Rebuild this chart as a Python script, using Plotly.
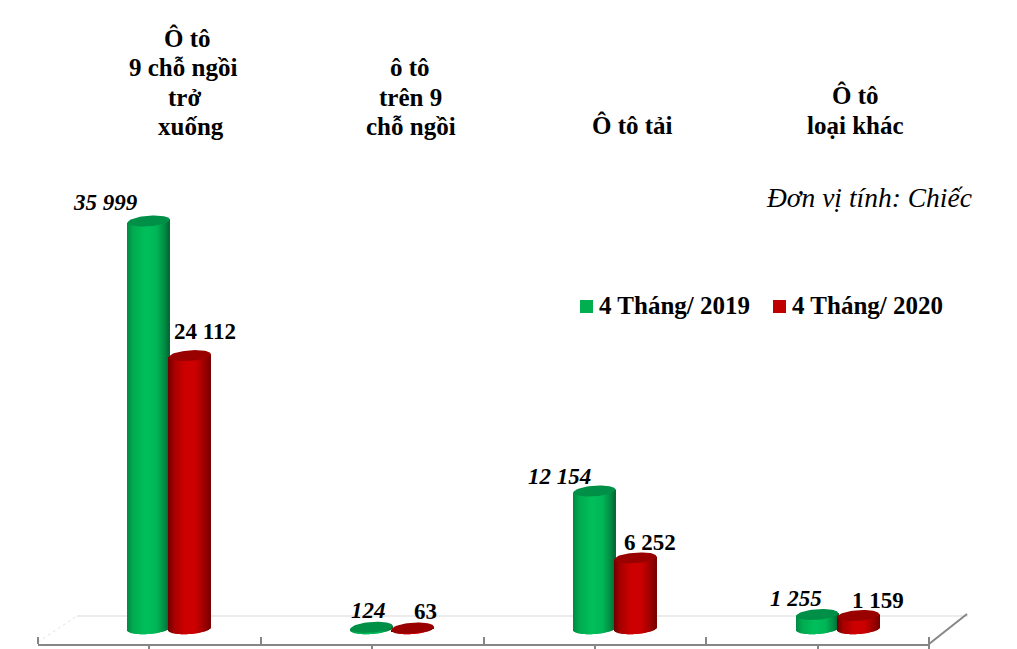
import numpy as np
import plotly.graph_objects as go

# ---------- data ----------
series_names = ["4 Tháng/ 2019", "4 Tháng/ 2020"]
values_2019 = [35999, 124, 12154, 1255]
values_2020 = [24112, 63, 6252, 1159]
category_lines = [
    ["Ô tô", "9 chỗ ngồi", "trở", "xuống"],
    ["ô tô", "trên 9", "chỗ ngồi"],
    ["Ô tô tải"],
    ["Ô tô", "loại khác"],
]
unit_note = "Đơn vị tính: Chiếc"

# ---------- layout constants (pixels) ----------
W, H = 1017, 649
L, R_EDGE, AXIS_Y = 38, 929, 644
BASE_PY = 628.7
PX_PER_UNIT = 407.7 / 35999
PX_PER_CAT = (R_EDGE - L) / 4
A, B, TILT = 21, 5.3, 0.07

OFFSET = [-0.5 / PX_PER_CAT, 40.5 / PX_PER_CAT]   # cylinder offset from the category centre
STOPS = [
    {"u": [-1, -.7, -.1, .4, .8, 1],
     "c": [(0, 138, 68), (0, 172, 80), (0, 192, 92), (0, 182, 86), (0, 138, 68), (0, 106, 53)]},
    {"u": [-1, -.7, -.2, .3, .7, 1],
     "c": [(110, 0, 0), (168, 0, 0), (204, 0, 0), (204, 0, 0), (160, 0, 0), (122, 0, 0)]},
]
TOP_COLORS = ["#008F47", "#990000"]
LEGEND_COLORS = ["#00B050", "#C00000"]
LABEL_STYLE = [True, False]                       # italic for 2019
# label shift from the top of each cylinder, px
LABEL_DX = [[-43, -3, -35, -21], [15, 13, 15, 20]]
LABEL_DY = [[-19, -17, -15, -16], [-24, -16, -15, -15]]


def xp(px):
    return (px - L) / (R_EDGE - L)


def yp(py):
    return (AXIS_Y - py) / AXIS_Y


def val(py):
    return (BASE_PY - py) / PX_PER_UNIT


def fmt(v):
    return f"{v:,}".replace(",", " ")


def font(size, bold=True, italic=False):
    return dict(family="Liberation Serif", size=size, color="black",
                weight="bold" if bold else "normal",
                style="italic" if italic else "normal")


fig = go.Figure()
annotations = []

for s, vals in enumerate([values_2019, values_2020]):
    for i, v in enumerate(vals):
        xc = i + 0.5 + OFFSET[s]
        # body: 1-px bars, each running from the base ellipse to the value level
        dpx = np.arange(-A, A) + 0.5
        u = dpx / A
        lower = val(BASE_PY + B * np.sqrt(1 - u ** 2) - TILT * dpx)
        upper = v + TILT * dpx / PX_PER_UNIT
        rgb = [np.interp(u, STOPS[s]["u"], [c[k] for c in STOPS[s]["c"]]) for k in range(3)]
        colors = [f"rgb({int(r)},{int(g)},{int(b)})" for r, g, b in zip(*rgb)]
        fig.add_trace(go.Bar(
            x=xc + dpx / PX_PER_CAT, y=upper - lower, base=lower,
            width=1 / PX_PER_CAT, marker=dict(color=colors, line_width=0),
            showlegend=False, hoverinfo="skip"))
        # top face
        t = np.linspace(0, 2 * np.pi, 73)
        ex, ey = A * np.cos(t), B * np.sin(t)
        fig.add_trace(go.Scatter(
            x=xc + ex / PX_PER_CAT, y=v + (ey + TILT * ex) / PX_PER_UNIT,
            mode="lines", fill="toself", fillcolor=TOP_COLORS[s],
            line=dict(width=0), showlegend=False, hoverinfo="skip"))
        annotations.append(dict(
            x=xc, y=v, xref="x", yref="y", text=fmt(v), showarrow=False,
            xshift=LABEL_DX[s][i], yshift=-LABEL_DY[s][i], xanchor="center", yanchor="middle",
            font=font(23, True, LABEL_STYLE[s])))

# category titles
LINE_STEP = 29.5
LAST_LINE_Y = [126.5, 126.5, 125, 125]
LINE_X = [[187, 183, 184, 191], [410, 410, 411], [632], [855, 855]]
for i, lines in enumerate(category_lines):
    for j, line in enumerate(lines):
        py = LAST_LINE_Y[i] - LINE_STEP * (len(lines) - 1 - j)
        annotations.append(dict(
            x=xp(LINE_X[i][j]), y=yp(py), xref="paper", yref="paper", text=line,
            showarrow=False, xanchor="center", yanchor="middle", font=font(25)))

annotations.append(dict(
    x=xp(974), y=yp(198), xref="paper", yref="paper", xanchor="right", yanchor="middle",
    text=unit_note, showarrow=False, font=font(27.5, False, True)))

# legend
shapes = []
LEG_BOX_X = [580, 773]
for s, name in enumerate(series_names):
    shapes.append(dict(type="rect", xref="paper", yref="paper",
                       x0=xp(LEG_BOX_X[s]), x1=xp(LEG_BOX_X[s] + 13),
                       y0=yp(313), y1=yp(300),
                       fillcolor=LEGEND_COLORS[s], line_width=0))
    annotations.append(dict(
        x=xp(LEG_BOX_X[s] + 17), y=yp(306), xref="paper", yref="paper", xanchor="left",
        yanchor="middle", text=name, showarrow=False, font=font(25)))


def seg(x0, y0, x1, y1, color="#868686", width=2, dash="solid"):
    shapes.append(dict(type="line", xref="paper", yref="paper", layer="below",
                       x0=xp(x0), y0=yp(y0), x1=xp(x1), y1=yp(y1),
                       line=dict(color=color, width=width, dash=dash)))


# back floor line, side edge, dotted left edge, end tick
seg(77, 616, 968, 616, "#D9D9D9", 1)
seg(929, 644, 967, 614, "#868686", 2)
seg(38, 642, 77, 616, "#E4E4E4", 1, "dot")
seg(929, 637, 929, 649, "#868686", 2)

fig.update_layout(
    width=W, height=H, margin=dict(l=L, r=W - R_EDGE, t=0, b=H - AXIS_Y),
    paper_bgcolor="white", plot_bgcolor="rgba(0,0,0,0)",
    barmode="overlay", showlegend=False,
    annotations=annotations, shapes=shapes,
    xaxis=dict(range=[0, 4], tickvals=[0.5, 1.5, 2.5, 3.5], ticktext=["", "", "", ""],
               ticks="outside", ticklen=5, tickwidth=2, tickcolor="#868686",
               showline=True, linecolor="#868686", linewidth=2, showgrid=False, zeroline=False,
               minor=dict(tickvals=[0, 1, 2, 3], ticks="inside", ticklen=7,
                          tickwidth=2, tickcolor="#868686", showgrid=False)),
    yaxis=dict(range=[val(AXIS_Y), val(0)], visible=False, showgrid=False, zeroline=False),
)
fig.write_html("out.html", config=dict(displayModeBar=False),
               post_script="document.body.style.margin='0';document.body.style.overflow='hidden';")
